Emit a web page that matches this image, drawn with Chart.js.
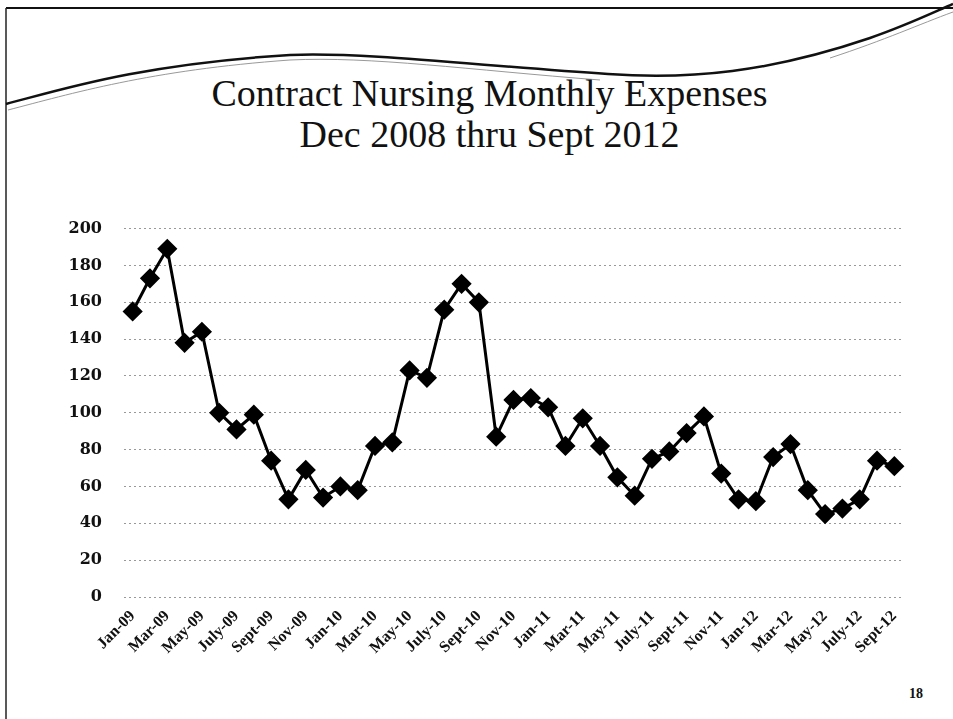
<!DOCTYPE html>
<html>
<head>
<meta charset="utf-8">
<script src="https://cdn.jsdelivr.net/npm/chart.js@4.4.1/dist/chart.umd.min.js"></script>
<style>
    html, body { margin: 0; padding: 0; background: #fff; }
    #slide { position: relative; width: 953px; height: 719px; overflow: hidden; }
    #deco { position: absolute; left: 0; top: 0; }
    .title {
        position: absolute; left: 13px; width: 953px; text-align: center;
        font-family: "Liberation Serif", "Times New Roman", serif; font-size: 38px; color: #111;
    }
    #chartBox { position: absolute; left: 0; top: 197px; width: 953px; height: 460px; }
    #pageNum {
        position: absolute; left: 909px; top: 686px;
        font-family: "Liberation Serif", serif; font-weight: bold; font-size: 14px; color: #111;
    }
</style>
</head>
<body>
<div id="slide">
    <svg id="deco" width="953" height="719">
        <path d="M6 8 L953 8" stroke="#111" stroke-width="2" fill="none"/>
        <path d="M6 8 L6 719" stroke="#222" stroke-width="1.5" fill="none"/>
        <path d="M6 104 C60 90, 140 64, 290 55 C370 52, 480 66, 608 74 C690 80, 770 72, 870 38 C905 26, 930 14, 953 4"
              stroke="#111" stroke-width="2.5" fill="none"/>
        <path d="M8 110 C70 94, 150 70, 290 60 C370 56, 470 70, 600 80" stroke="#999" stroke-width="1" fill="none"/>
        <path d="M830 58 C885 40, 920 24, 953 12" stroke="#999" stroke-width="1" fill="none"/>
    </svg>
    <div class="title" style="top: 71px;">Contract Nursing Monthly Expenses</div>
    <div class="title" style="top: 112px;">Dec 2008 thru Sept 2012</div>
    <div id="chartBox"><canvas id="expenseChart"></canvas></div>
    <div id="pageNum">18</div>
</div>

<script>
const months = [
    'Jan-09', 'Feb-09', 'Mar-09', 'Apr-09', 'May-09', 'June-09', 'July-09', 'Aug-09', 'Sept-09', 'Oct-09', 'Nov-09', 'Dec-09',
    'Jan-10', 'Feb-10', 'Mar-10', 'Apr-10', 'May-10', 'June-10', 'July-10', 'Aug-10', 'Sept-10', 'Oct-10', 'Nov-10', 'Dec-10',
    'Jan-11', 'Feb-11', 'Mar-11', 'Apr-11', 'May-11', 'June-11', 'July-11', 'Aug-11', 'Sept-11', 'Oct-11', 'Nov-11', 'Dec-11',
    'Jan-12', 'Feb-12', 'Mar-12', 'Apr-12', 'May-12', 'June-12', 'July-12', 'Aug-12', 'Sept-12'
];

const expenses = [
    155, 173, 189, 138, 144, 100, 91, 99, 74, 53, 69, 54,
    60, 58, 82, 84, 123, 119, 156, 170, 160, 87, 107, 108,
    103, 82, 97, 82, 65, 55, 75, 79, 89, 98, 67, 53,
    52, 76, 83, 58, 45, 48, 53, 74, 71
];

const yTicks = [0, 20, 40, 60, 80, 100, 120, 140, 160, 180, 200];

const ctx = document.getElementById('expenseChart').getContext('2d');

new Chart(ctx, {
    type: 'line',
    data: {
        labels: months,
        datasets: [{
            label: 'Contract Nursing',
            data: expenses,
            borderColor: '#000',
            backgroundColor: '#000',
            borderWidth: 3,
            tension: 0,
            pointStyle: 'rectRot',
            pointRadius: 8,
            pointHoverRadius: 8,
            pointBackgroundColor: '#000',
            pointBorderColor: '#000',
            fill: false
        }]
    },
    options: {
        responsive: true,
        maintainAspectRatio: false,
        animation: false,
        layout: { padding: { left: 0, right: 50, top: 4, bottom: 0 } },
        plugins: {
            legend: { display: false },
            tooltip: { enabled: false }
        },
        scales: {
            x: {
                offset: true,
                grid: { display: false },
                border: { display: false },
                afterFit: scale => { scale.height = 60; },
                ticks: {
                    autoSkip: false,
                    minRotation: 45,
                    maxRotation: 45,
                    padding: 2,
                    color: '#111',
                    font: { family: '"Liberation Serif", serif', size: 16, weight: 'bold' },
                    callback: function (value, index) {
                        return index % 2 === 0 ? this.getLabelForValue(value) : '';
                    }
                }
            },
            y: {
                min: 0,
                max: 200,
                afterFit: scale => { scale.width = 124; },
                afterBuildTicks: scale => { scale.ticks = yTicks.map(v => ({ value: v })); },
                border: { display: false, dash: [2, 3] },
                grid: {
                    color: '#999',
                    lineWidth: 1,
                    drawTicks: false
                },
                ticks: {
                    padding: 22,
                    color: '#111',
                    font: { family: '"DejaVu Serif", serif', size: 16, weight: 'bold' }
                }
            }
        }
    }
});
</script>
</body>
</html>
